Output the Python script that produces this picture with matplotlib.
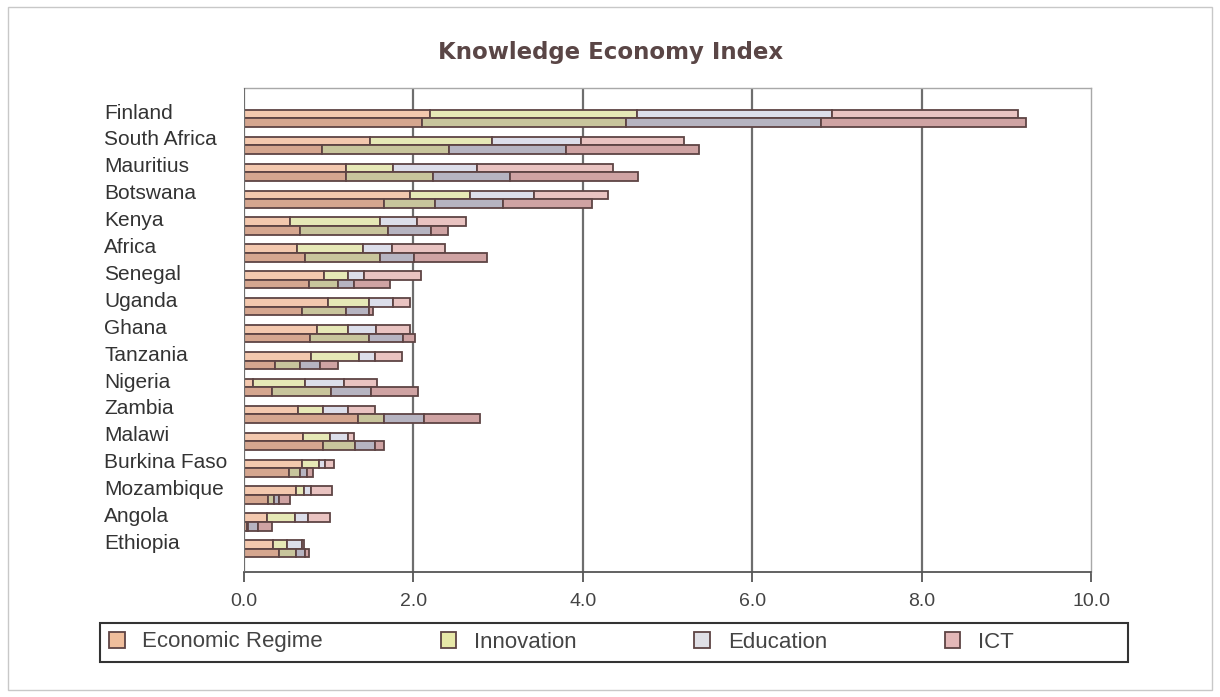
import numpy as np
import matplotlib
matplotlib.use("Agg")
import matplotlib.pyplot as plt
from matplotlib.patches import Rectangle, Patch

plt.rcParams['font.family'] = ['Liberation Sans', 'DejaVu Sans']

countries = ["Finland", "South Africa", "Mauritius", "Botswana", "Kenya", "Africa",
             "Senegal", "Uganda", "Ghana", "Tanzania", "Nigeria", "Zambia", "Malawi",
             "Burkina Faso", "Mozambique", "Angola", "Ethiopia"]
pillars = ["Economic Regime", "Innovation", "Education", "ICT"]

# upper (lighter) bar of each pair
upper_econ = [2.20, 1.49, 1.21, 1.96, 0.54, 0.63, 0.94, 0.99, 0.86, 0.79, 0.11, 0.64, 0.70, 0.68, 0.61, 0.27, 0.34]
upper_innov = [2.44, 1.44, 0.55, 0.71, 1.06, 0.78, 0.29, 0.48, 0.37, 0.57, 0.61, 0.29, 0.32, 0.21, 0.10, 0.33, 0.17]
upper_edu = [2.30, 1.05, 0.99, 0.75, 0.44, 0.34, 0.19, 0.29, 0.33, 0.19, 0.46, 0.30, 0.21, 0.07, 0.08, 0.16, 0.17]
upper_ict = [2.20, 1.22, 1.61, 0.88, 0.58, 0.62, 0.67, 0.20, 0.40, 0.31, 0.39, 0.32, 0.07, 0.10, 0.25, 0.26, 0.03]

# lower (darker) bar of each pair
lower_econ = [2.10, 0.92, 1.21, 1.65, 0.66, 0.72, 0.77, 0.68, 0.78, 0.37, 0.33, 1.35, 0.93, 0.53, 0.28, 0.03, 0.41]
lower_innov = [2.41, 1.50, 1.02, 0.61, 1.04, 0.89, 0.34, 0.53, 0.70, 0.29, 0.70, 0.30, 0.38, 0.13, 0.08, 0.02, 0.20]
lower_edu = [2.30, 1.38, 0.91, 0.80, 0.51, 0.40, 0.19, 0.27, 0.40, 0.24, 0.47, 0.48, 0.24, 0.08, 0.05, 0.12, 0.11]
lower_ict = [2.42, 1.57, 1.51, 1.05, 0.20, 0.86, 0.42, 0.04, 0.14, 0.21, 0.55, 0.66, 0.10, 0.07, 0.13, 0.16, 0.05]

upper_colors = ['#F3C8AE', '#E6E8B6', '#DCDEEA', '#E9C3C1']
lower_colors = ['#D5A68F', '#C8C59C', '#B6B4C1', '#CFA3A3']
legend_colors = ['#F0BE9C', '#E8E8A8', '#E0E0E6', '#E4B8B8']
edge = '#5E4444'

fig = plt.figure(figsize=(12.2, 6.97), dpi=100)
ax = fig.add_axes([244 / 1220, 1 - 572 / 697, 847 / 1220, 484 / 697])

y = np.arange(len(countries))
h = 0.32

left = np.zeros(len(countries))
for vals, col in zip([upper_econ, upper_innov, upper_edu, upper_ict], upper_colors):
    ax.barh(y - h / 2, vals, height=h, left=left, color=col, edgecolor=edge, linewidth=1.3, zorder=3)
    left += np.array(vals)

left = np.zeros(len(countries))
for vals, col in zip([lower_econ, lower_innov, lower_edu, lower_ict], lower_colors):
    ax.barh(y + h / 2, vals, height=h, left=left, color=col, edgecolor=edge, linewidth=1.3, zorder=3)
    left += np.array(vals)

ax.set_xlim(0, 10)
ax.set_ylim(16.86, -1.13)
ax.set_xticks([0, 2, 4, 6, 8, 10])
ax.set_xticklabels(["0.0", "2.0", "4.0", "6.0", "8.0", "10.0"], fontsize=14, color='#444444')
ax.tick_params(axis='x', length=7, width=1.3, color='#555555', pad=8)
ax.set_yticks([])

for xv in [2, 4, 6, 8]:
    ax.axvline(xv, color='#6E6E6E', lw=1.6, zorder=1)
ax.axvline(0, color='#6E6E6E', lw=1.6, zorder=4)

for s in ['top', 'right']:
    ax.spines[s].set_color('#A8A8A8')
    ax.spines[s].set_linewidth(1.0)
ax.spines['left'].set_visible(False)
ax.spines['bottom'].set_color('#555555')
ax.spines['bottom'].set_linewidth(1.3)

for i, c in enumerate(countries):
    ax.text(-0.165, i - 0.2, c, transform=ax.get_yaxis_transform(),
            ha='left', va='center', fontsize=15, color='#333333')

fig.text(611 / 1220, 1 - 52 / 697, "Knowledge Economy Index", ha='center', va='center',
         fontsize=16.5, fontweight='bold', color='#5A4646', family='DejaVu Sans')

# legend box drawn separately, entries placed inside it
fig.patches.append(Rectangle((100 / 1220, 1 - 662 / 697), 1028 / 1220, 39 / 697,
                             transform=fig.transFigure, fill=False,
                             edgecolor='#333333', lw=1.5))
handles = [Patch(facecolor=c, edgecolor=edge, linewidth=1.3) for c in legend_colors]
leg = fig.legend(handles, pillars, loc='center left',
                 bbox_to_anchor=(109 / 1220, 1 - 642 / 697),
                 ncol=4, fontsize=16, frameon=False,
                 handlelength=0.7, handleheight=0.7, handletextpad=0.8,
                 columnspacing=5.3, borderpad=0, borderaxespad=0)
for t in leg.get_texts():
    t.set_color('#444444')

fig.patches.append(Rectangle((8 / 1220, 7 / 697), 1204 / 1220, 683 / 697,
                             transform=fig.transFigure, fill=False,
                             edgecolor='#C8C8C8', lw=1.0))

fig.savefig("out.png", dpi=100)
